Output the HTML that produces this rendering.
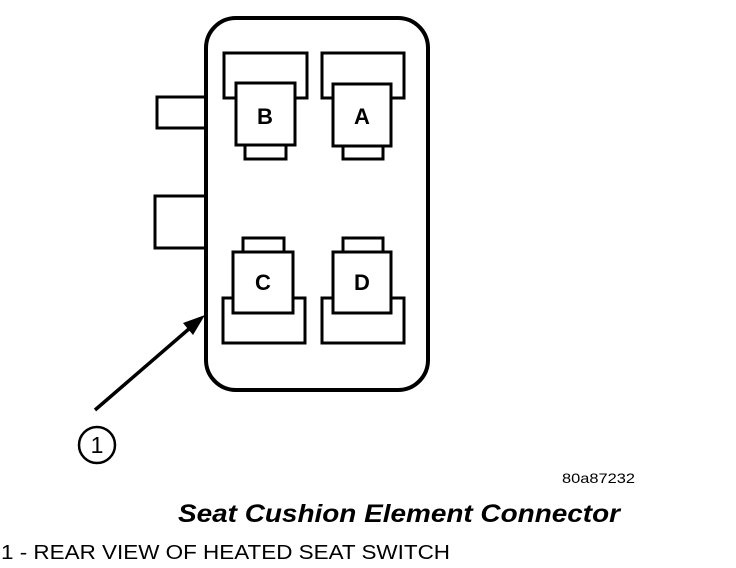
<!DOCTYPE html>
<html><head><style>
html,body{margin:0;padding:0;background:#fff;width:736px;height:568px;overflow:hidden}
svg{display:block}
</style></head><body>
<svg width="736" height="568" viewBox="0 0 736 568" xmlns="http://www.w3.org/2000/svg">
<g fill="#fff" stroke="#000" stroke-width="3">
<rect x="157" y="97" width="50" height="31"/>
<rect x="155" y="196" width="52" height="52"/>
<rect x="206" y="18" width="222" height="372" rx="30" ry="30" stroke-width="4"/>
<rect x="224" y="53" width="83" height="45"/>
<rect x="245" y="143" width="41" height="16"/>
<rect x="236" y="83" width="59" height="62"/>
<rect x="322" y="53" width="82" height="45"/>
<rect x="343" y="143" width="40" height="16"/>
<rect x="333" y="84" width="58" height="62"/>
<rect x="243" y="238" width="41" height="16"/>
<rect x="223" y="298" width="82" height="45"/>
<rect x="233" y="252" width="60" height="61"/>
<rect x="343" y="238" width="40" height="16"/>
<rect x="322" y="298" width="82" height="45"/>
<rect x="333" y="252" width="58" height="61"/>
</g>
<g font-family="Liberation Sans, sans-serif" font-weight="bold" font-size="22" text-anchor="middle">
<text x="265" y="124">B</text>
<text x="362" y="124">A</text>
<text x="263" y="290">C</text>
<text x="362" y="290">D</text>
</g>
<line x1="95" y1="410" x2="190" y2="328" stroke="#000" stroke-width="3.5"/>
<polygon points="205,315 183,323 193,335" fill="#000"/>
<circle cx="97" cy="445" r="18" fill="none" stroke="#000" stroke-width="2.5"/>
<text x="97" y="453" font-family="Liberation Sans, sans-serif" font-size="23" text-anchor="middle">1</text>
<text x="562" y="483" font-family="Liberation Sans, sans-serif" font-size="14" textLength="73" lengthAdjust="spacingAndGlyphs">80a87232</text>
<text x="178" y="522" font-family="Liberation Sans, sans-serif" font-size="25" font-weight="bold" font-style="italic" textLength="442" lengthAdjust="spacingAndGlyphs">Seat Cushion Element Connector</text>
<text x="1" y="559" font-family="Liberation Sans, sans-serif" font-size="20" textLength="449" lengthAdjust="spacingAndGlyphs">1 - REAR VIEW OF HEATED SEAT SWITCH</text>
</svg>
</body></html>
